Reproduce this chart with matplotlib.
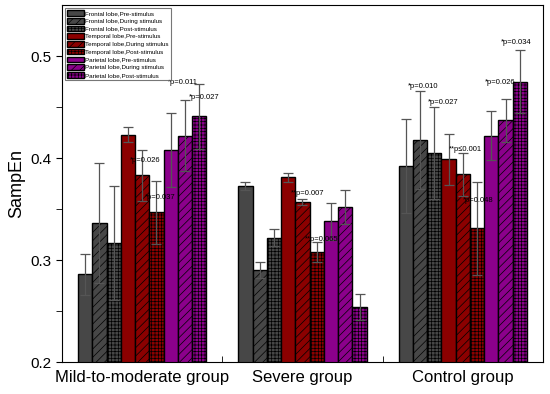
import numpy as np
import matplotlib
matplotlib.use('Agg')
import matplotlib.pyplot as plt

# groups and series
groups = ['Mild-to-moderate group', 'Severe group', 'Control group']
series = ['Frontal lobe,Pre-stimulus', 'Frontal lobe,During stimulus', 'Frontal lobe,Post-stimulus',
          'Temporal lobe,Pre-stimulus', 'Temporal lobe,During stimulus', 'Temporal lobe,Post-stimulus',
          'Parietal lobe,Pre-stimulus', 'Parietal lobe,During stimulus', 'Parietal lobe,Post-stimulus']

# SampEn means, one row per series (mild, severe, control)
means = [
  [0.286, 0.373, 0.392],
  [0.336, 0.290, 0.418],
  [0.317, 0.322, 0.405],
  [0.423, 0.381, 0.399],
  [0.383, 0.357, 0.384],
  [0.347, 0.308, 0.331],
  [0.408, 0.338, 0.422],
  [0.422, 0.352, 0.437],
  [0.441, 0.254, 0.475],
]
errors = [
  [0.020, 0.004, 0.046],
  [0.059, 0.008, 0.048],
  [0.056, 0.008, 0.045],
  [0.007, 0.004, 0.025],
  [0.025, 0.003, 0.021],
  [0.031, 0.010, 0.046],
  [0.036, 0.018, 0.024],
  [0.035, 0.017, 0.021],
  [0.032, 0.013, 0.031],
]

# p-value labels: (x, y, text)
p_labels = [
  (-0.075, 0.398, '*p=0.026'),
  (0.02, 0.361, '*p=0.037'),
  (0.16, 0.474, '*p=0.011'),
  (0.29, 0.4595, '*p=0.027'),
  (0.93, 0.365, '**p=0.007'),
  (1.015, 0.320, '**p=0.065'),
  (1.66, 0.470, '*p=0.010'),
  (1.78, 0.4546, '*p=0.027'),
  (1.91, 0.408, '**p\u22640.001'),
  (2.0, 0.358, '*p=0.048'),
  (2.14, 0.474, '*p=0.026'),
  (2.24, 0.513, '*p=0.034'),
]

colors = ['#474747'] * 3 + ['#8b0000'] * 3 + ['#8b008b'] * 3
hatches = ['', '////', '+++++'] * 3

plt.rcParams['font.family'] = ['Liberation Sans', 'DejaVu Sans']
plt.rcParams['hatch.linewidth'] = 0.5

fig = plt.figure(figsize=(5.5, 3.94), dpi=100)
ax = fig.add_axes([0.1127, 0.0812, 0.9873 - 0.1127, 0.987 - 0.0812])

x = np.arange(len(groups))
width = 0.8 / len(series)
for i in range(len(series)):
  pos = x - 0.4 + width * (i + 0.5)
  ax.bar(pos, means[i], width, bottom=0, color=colors[i], hatch=hatches[i],
         edgecolor='black', linewidth=1, label=series[i], zorder=2)
  ax.errorbar(pos, means[i], yerr=errors[i], fmt='none', ecolor='#555555',
              elinewidth=0.9, capsize=3.5, capthick=0.9, zorder=3)

for px, py, t in p_labels:
  ax.text(px, py, t, fontsize=5.5, va='center', ha='left', zorder=4)

ax.set_xlim(-0.5, 2.5)
ax.set_ylim(0.2, 0.55)
ax.set_xticks(x)
ax.set_xticklabels(groups, fontsize=12)
ax.set_xticks([-0.5, 0.5, 1.5, 2.5], minor=True)
ax.tick_params(axis='x', which='major', length=0, pad=6)
ax.tick_params(axis='x', which='minor', direction='in', length=4)
ax.set_yticks([0.2, 0.3, 0.4, 0.5])
ax.set_yticks([0.25, 0.35, 0.45], minor=True)
ax.tick_params(axis='y', which='both', direction='out', length=4, labelsize=11)
ax.set_ylabel('SampEn', fontsize=13)

leg = ax.legend(loc='upper left', fontsize=4.5, frameon=True, fancybox=False,
                edgecolor='#555555', handlelength=2.6, handleheight=1.0,
                labelspacing=0.28, handletextpad=0.25, borderpad=0.35,
                borderaxespad=0.5)
leg.get_frame().set_linewidth(0.8)

fig.savefig('out.png', dpi=100)
